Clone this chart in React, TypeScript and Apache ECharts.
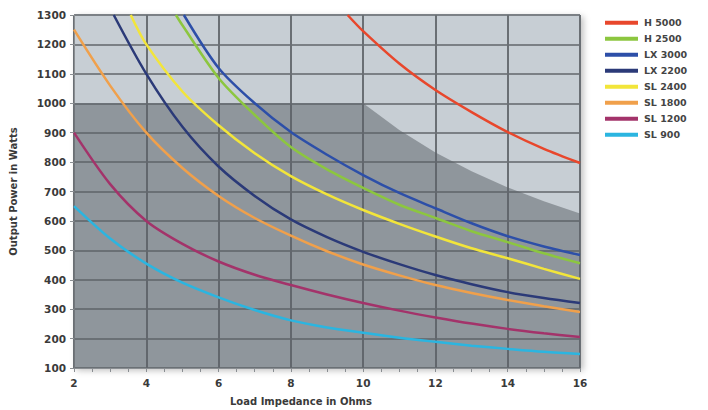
import React, { useEffect, useRef } from "react";
import * as echarts from "echarts";

// Load impedance (ohms) vs output power (watts)
const h5000 = [[9.57, 1300], [10, 1245], [11, 1135], [12, 1045], [13, 970], [14, 902], [15, 845], [16, 797]];
const h2500 = [[4.82, 1300], [5, 1265], [6, 1086], [7, 960], [8, 851], [9, 775], [10, 712], [11, 655], [12, 610], [13, 565], [14, 528], [15, 490], [16, 456]];
const lx3000 = [[5.04, 1300], [6, 1120], [7, 1000], [8, 902], [9, 825], [10, 756], [11, 695], [12, 643], [13, 592], [14, 548], [15, 513], [16, 484]];
const lx2200 = [[3.1, 1300], [4, 1100], [5, 920], [6, 785], [7, 685], [8, 605], [9, 545], [10, 495], [11, 453], [12, 416], [13, 385], [14, 358], [15, 338], [16, 321]];
const sl2400 = [[3.57, 1300], [4, 1200], [5, 1040], [6, 925], [7, 830], [8, 752], [9, 690], [10, 637], [11, 590], [12, 547], [13, 507], [14, 473], [15, 437], [16, 403]];
const sl1800 = [[2, 1250], [3, 1060], [4, 900], [5, 780], [6, 685], [7, 610], [8, 550], [9, 497], [10, 452], [11, 415], [12, 382], [13, 355], [14, 331], [15, 310], [16, 290]];
const sl1200 = [[2, 900], [3, 725], [4, 600], [5, 522], [6, 462], [7, 417], [8, 382], [9, 350], [10, 321], [11, 295], [12, 272], [13, 251], [14, 233], [15, 218], [16, 205]];
const sl900 = [[2, 650], [3, 540], [4, 455], [5, 390], [6, 340], [7, 297], [8, 262], [9, 238], [10, 220], [11, 203], [12, 189], [13, 176], [14, 165], [15, 155], [16, 148]];
// Shaded limit region
const limitZone = [[2, 1000], [10, 1000], [11, 909], [12, 833], [13, 769], [14, 714], [15, 667], [16, 625]];

const seriesNames = ["H 5000", "H 2500", "LX 3000", "LX 2200", "SL 2400", "SL 1800", "SL 1200", "SL 900"];
const seriesData = [h5000, h2500, lx3000, lx2200, sl2400, sl1800, sl1200, sl900];
const seriesColors = ["#e8472c", "#8cc63f", "#2d4fa8", "#2b3a78", "#f2e53a", "#f0a04b", "#a3336a", "#2bb5e0"];

const FONT = "DejaVu Sans";
const TXT = "#3a3a3a";

export default function App() {
  const ref = useRef<HTMLDivElement>(null);
  useEffect(() => {
    document.body.style.margin = "0";
    const chart = echarts.init(ref.current!, null, { renderer: "svg" });
    chart.setOption({
      animation: false,
      backgroundColor: "#ffffff",
      grid: {
        left: 73, top: 15, width: 507, height: 353,
        show: true, backgroundColor: "#c7ced4", borderColor: "#9a9ea2", borderWidth: 1,
        shadowColor: "rgba(0,0,0,0.25)", shadowBlur: 6, shadowOffsetX: 3, shadowOffsetY: 2,
      },
      legend: {
        orient: "vertical", left: 600, top: 12,
        itemWidth: 33, itemHeight: 4, itemGap: 4.5,
        icon: "rect",
        data: seriesNames,
        textStyle: { fontFamily: FONT, fontWeight: "bold", fontSize: 9.5, color: "#444", lineHeight: 11.5, padding: [0, 0, 0, 1] },
      },
      xAxis: {
        type: "value", min: 2, max: 16, interval: 2,
        axisLine: { show: true, lineStyle: { color: "#8a8e92", width: 1 } },
        axisTick: { show: true, length: 4, lineStyle: { color: "#8a8e92" } },
        minorTick: { show: true, splitNumber: 4, length: 4, lineStyle: { color: "#8a8e92" } },
        axisLabel: { fontFamily: FONT, fontWeight: "bold", fontSize: 10.5, color: TXT, margin: 9 },
        splitLine: { show: true, lineStyle: { color: "#6a6f74", width: 2 } },
      },
      yAxis: {
        type: "value", min: 100, max: 1300, interval: 100,
        name: "Output Power in Watts", nameLocation: "middle", nameGap: 56,
        nameTextStyle: { fontFamily: FONT, fontWeight: "bold", fontSize: 10, color: TXT },
        axisLine: { show: true, lineStyle: { color: "#8a8e92", width: 1 } },
        axisTick: { show: true, length: 4, lineStyle: { color: "#8a8e92" } },
        axisLabel: {
          fontFamily: FONT, fontWeight: "bold", fontSize: 10.5, color: TXT, margin: 8,
          formatter: (v: number) => String(v),
        },
        splitLine: { show: true, lineStyle: { color: "#7b8085", width: 2 } },
      },
      graphic: [
        {
          type: "text", left: 230, top: 396,
          style: { text: "Load Impedance in Ohms", fontFamily: FONT, fontWeight: "bold", fontSize: 10, fill: TXT },
        },
      ],
      series: [
        {
          type: "line", name: "limit", data: limitZone, smooth: false, silent: true,
          showSymbol: false, symbol: "none", lineStyle: { width: 0, opacity: 0 },
          areaStyle: { color: "rgba(90,96,102,0.73)", origin: "start" }, z: 1,
        },
        ...seriesNames.map((name, i) => ({
          type: "line", name, data: seriesData[i], smooth: 0.3,
          showSymbol: false, symbol: "none",
          itemStyle: { color: seriesColors[i] },
          lineStyle: { color: seriesColors[i], width: 2.5 },
          z: 3,
        })),
      ],
    });
    return () => chart.dispose();
  }, []);
  return <div ref={ref} style={{ width: 708, height: 410 }} />;
}
